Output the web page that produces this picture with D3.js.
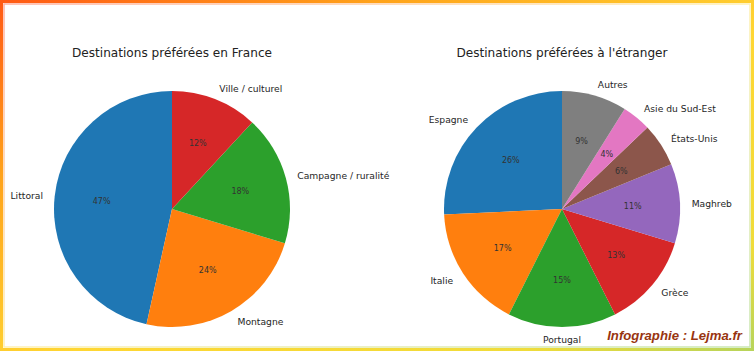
<!DOCTYPE html>
<html><head><meta charset="utf-8">
<script src="https://cdn.jsdelivr.net/npm/d3@7"></script>
<style>body{margin:0;background:#fff}svg{display:block}</style>
</head><body>
<svg id="c" width="754" height="351"></svg>
<script>
const franceLabels = ["Littoral","Montagne","Campagne / ruralité","Ville / culturel"];
const franceValues = [47,24,18,12];
const abroadLabels = ["Espagne","Italie","Portugal","Grèce","Maghreb","États-Unis","Asie du Sud-Est","Autres"];
const abroadValues = [26,17,15,13,11,6,4,9];
const colors = ["#1f77b4","#ff7f0e","#2ca02c","#d62728","#9467bd","#8c564b","#e377c2","#7f7f7f"];
const titles = ["Destinations préférées en France","Destinations préférées à l'étranger"];

const svg = d3.select("#c");
const W = 754, H = 351;
const defs = svg.append("defs");
const g1 = defs.append("linearGradient").attr("id","fr").attr("x1","0").attr("y1","0").attr("x2","1").attr("y2","1");
[["0%","#ff5a14"],["25%","#ffa31a"],["55%","#ffd633"],["85%","#f0dc3a"],["100%","#b8d45a"]].forEach(([o,c])=>g1.append("stop").attr("offset",o).attr("stop-color",c));
const g2 = defs.append("linearGradient").attr("id","fr2").attr("x1","0").attr("y1","0").attr("x2","1").attr("y2","1");
[["0%","#ffb0a0"],["50%","#fff0b0"],["100%","#c8e6b0"]].forEach(([o,c])=>g2.append("stop").attr("offset",o).attr("stop-color",c));

svg.append("rect").attr("x",1.5).attr("y",1.5).attr("width",W-3).attr("height",H-3).attr("fill","#fff").attr("stroke","url(#fr)").attr("stroke-width",3);
svg.append("rect").attr("x",4).attr("y",4).attr("width",W-8).attr("height",H-8).attr("fill","none").attr("stroke","url(#fr2)").attr("stroke-width",1.5);

function drawPie(cx, cy, r, labels, values, title){
  const g = svg.append("g").attr("transform",`translate(${cx},${cy})`);
  const total = d3.sum(values);
  const pie = d3.pie().sort(null).startAngle(0).endAngle(-2*Math.PI);
  const arcs = pie(values);
  const arc = d3.arc().innerRadius(0).outerRadius(r);
  g.selectAll("path.s").data(arcs).join("path").attr("class","s")
    .attr("d",arc).attr("fill",(d,i)=>colors[i]);
  arcs.forEach((d,i)=>{
    const mid = (d.startAngle+d.endAngle)/2;
    const lx = Math.sin(mid)*r*1.1, ly = -Math.cos(mid)*r*1.1;
    g.append("text").attr("x",lx).attr("y",ly).attr("dy","0.42em")
      .attr("text-anchor", lx>0.01 ? "start" : (lx< -0.01 ? "end":"middle"))
      .attr("font-family","DejaVu Sans").attr("font-size",9.2).attr("fill","#262626")
      .text(labels[i]);
    const px = Math.sin(mid)*r*0.6, py = -Math.cos(mid)*r*0.6;
    g.append("text").attr("x",px).attr("y",py).attr("dy","0.38em").attr("text-anchor","middle")
      .attr("font-family","DejaVu Sans").attr("font-size",8).attr("fill","#333")
      .text(Math.round(values[i]/total*100)+"%");
  });
  svg.append("text").attr("x",cx).attr("y",57).attr("text-anchor","middle")
    .attr("font-family","DejaVu Sans").attr("font-size",12.1).attr("fill","#222").text(title);
}
drawPie(172,209,118,franceLabels,franceValues,titles[0]);
drawPie(562,209,118,abroadLabels,abroadValues,titles[1]);

svg.append("text").attr("x",742).attr("y",340).attr("text-anchor","end")
  .attr("font-family","Liberation Sans Narrow, Liberation Sans").attr("font-style","italic").attr("font-weight","bold")
  .attr("font-size",13.2).attr("fill","#983410").text("Infographie : Lejma.fr");
</script>
</body></html>
